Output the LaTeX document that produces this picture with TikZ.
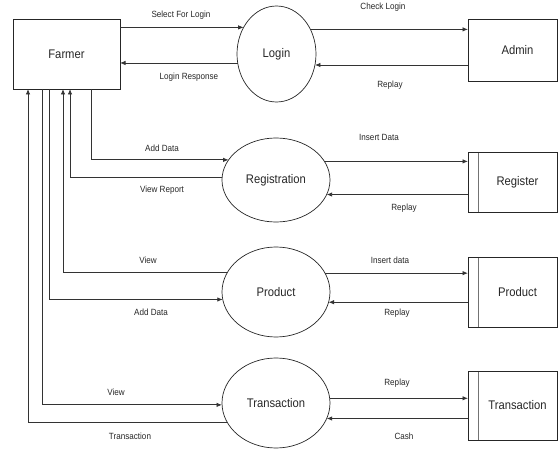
\documentclass[tikz,border=0pt]{standalone}
\usepackage{fontspec}
\setmainfont{Liberation Sans}[FakeStretch=0.9]
\usetikzlibrary{arrows.meta,shapes.geometric}
\begin{document}
\begin{tikzpicture}[x=1pt,y=-1pt,
  flow/.style={draw=black!80, line width=0.85pt, -{Latex[length=5.5pt,width=4.5pt]}},
  boxtext/.style={font=\fontsize{12.5}{14}\selectfont, text=black!85},
  entity/.style={draw=black!85, line width=0.85pt, rectangle, inner sep=0pt, outer sep=0pt, boxtext},
  proc/.style={draw=black!85, line width=0.7pt, ellipse, inner sep=0pt, outer sep=0pt, boxtext},
  store/.style={entity, path picture={\draw[black!55, line width=1pt] ([xshift=10pt]path picture bounding box.north west) -- ([xshift=10pt]path picture bounding box.south west);}},
  lbl/.style={font=\fontsize{9}{10}\selectfont, text=black!85, inner sep=0pt}
]
\useasboundingbox (0,0) rectangle (558,449);

% nodes
\node[entity, minimum width=107pt, minimum height=70pt] (farmer) at (66.5,54) {Farmer};
\node[proc, minimum width=79pt, minimum height=96pt] (login) at (276.5,54) {Login};
\node[entity, minimum width=89pt, minimum height=62pt, label={[boxtext, xshift=5pt]center:Admin}] (admin) at (512.5,50) {};

\node[proc, minimum width=108pt, minimum height=84pt] (reg) at (276,180) {Registration};
\node[store, minimum width=89pt, minimum height=60pt, label={[boxtext, xshift=5pt]center:Register}] (register) at (512.5,182) {};

\node[proc, minimum width=108pt, minimum height=90pt] (prod) at (276,292) {Product};
\node[store, minimum width=89pt, minimum height=70pt, label={[boxtext, xshift=5pt]center:Product}] (prodstore) at (512.5,292) {};

\node[proc, minimum width=108pt, minimum height=90pt] (trans) at (276,403) {Transaction};
\node[store, minimum width=89pt, minimum height=69pt, label={[boxtext, xshift=5pt]center:Transaction}] (transstore) at (512.5,405.5) {};

% login row
\draw[flow] (farmer.east |- login.141.9) -- (login.141.9);
\draw[flow] (login.193.1) -- (farmer.east |- login.193.1);
\draw[flow] (login.36.6) -- (admin.west |- login.36.6);
\draw[flow] (admin.west |- login.344) -- (login.344);

% registration row
\draw[flow] ([xshift=78pt]farmer.south west) |- (reg.157.2);
\draw[flow] (reg.177.9) -| ([xshift=57pt]farmer.south west);
\draw[flow] (reg.21.5) -- (register.west |- reg.21.5);
\draw[flow] (register.west |- reg.344.6) -- (reg.344.6);

% product row
\draw[flow] (prod.158.8) -| ([xshift=50pt]farmer.south west);
\draw[flow] ([xshift=36pt]farmer.south west) |- (prod.188.6);
\draw[flow] (prod.21.2) -- (prodstore.west |- prod.21.2);
\draw[flow] (prodstore.west |- prod.349.25) -- (prod.349.25);

% transaction row
\draw[flow] ([xshift=29pt]farmer.south west) |- (trans.182.1);
\draw[flow] (trans.202.45) -| ([xshift=15pt]farmer.south west);
\draw[flow] (trans.5.3) -- (transstore.west |- trans.5.3);
\draw[flow] (transstore.west |- trans.343.6) -- (trans.343.6);

% labels
\node[lbl] (l1) at (181,15) {Select For Login};
\node[lbl] (l2) at (189,77) {Login Response};
\node[lbl] (l3) at (383,7) {Check Login};
\node[lbl] (l4) at (390,85) {Replay};
\node[lbl] (l5) at (162,148) {Add Data};
\node[lbl] (l6) at (162,190) {View Report};
\node[lbl] (l7) at (379,137) {Insert Data};
\node[lbl] (l8) at (404,208) {Replay};
\node[lbl] (l9) at (148,260) {View};
\node[lbl] (l10) at (151,312) {Add Data};
\node[lbl] (l11) at (390,260) {Insert data};
\node[lbl] (l12) at (397,313) {Replay};
\node[lbl] (l13) at (116,392) {View};
\node[lbl] (l14) at (130,436) {Transaction};
\node[lbl] (l15) at (397,383) {Replay};
\node[lbl] (l16) at (404,436) {Cash};
\end{tikzpicture}
\end{document}
